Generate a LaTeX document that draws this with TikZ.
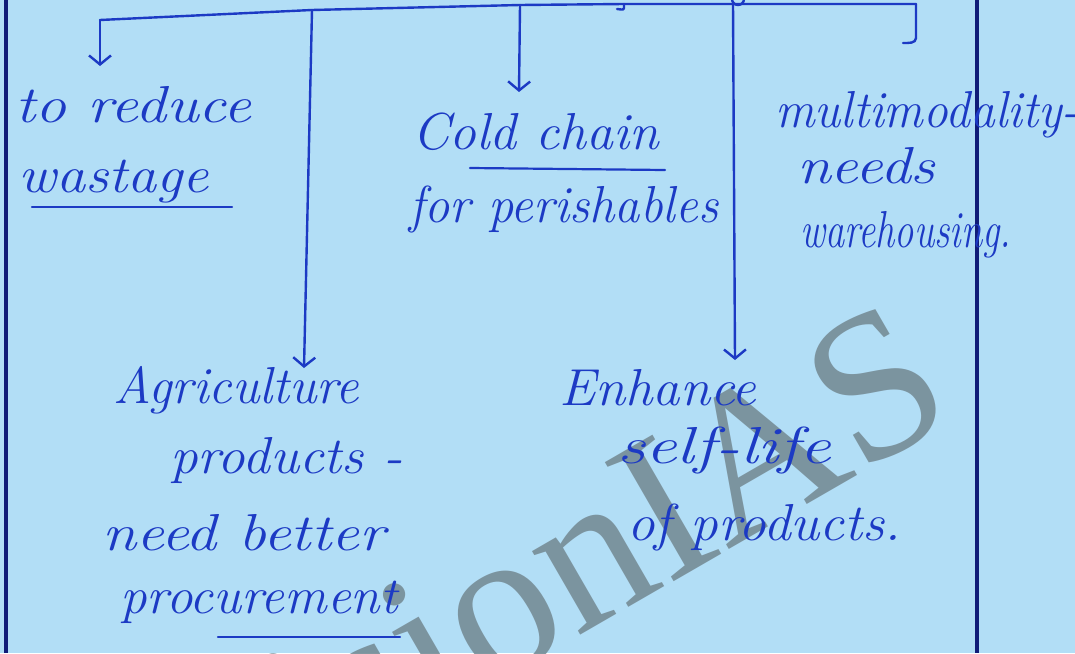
\documentclass[tikz,border=0pt]{standalone}
\usepackage{fontspec}
\newfontfamily\stampfont{Liberation Serif}
\usetikzlibrary{arrows.meta}

\definecolor{paper}{RGB}{178,222,246}
\definecolor{ink}{RGB}{28,58,196}
\definecolor{frame}{RGB}{16,28,120}
\definecolor{stamp}{RGB}{118,140,150}

\begin{document}
\begin{tikzpicture}[x=1pt,y=-1pt,
  hand/.style={text=ink, font=\fontsize{52}{58}\selectfont\itshape,
               anchor=base west, inner sep=0pt},
  wire/.style={draw=ink, line width=2.4pt, line cap=round, line join=round},
  downarrow/.style={wire, -{Straight Barb[length=9pt,width=22pt,line width=2.4pt]}},
  rule/.style={draw=ink, line width=2.2pt, line cap=round},
  margin/.style={draw=frame, line width=4.5pt}
]
% sheet
\useasboundingbox (0,0) rectangle (1075,653);
\fill[paper] (0,0) rectangle (1075,653);

% watermark across the lower half
\node[rotate=30, anchor=base west, inner sep=0pt, text=stamp, text opacity=0.9,
      font=\stampfont\fontsize{210}{210}\selectfont] (mark) at (193,859) {VisionIAS};

% page margins
\coordinate (mlt) at (6,0);    \coordinate (mlb) at (6,653);
\coordinate (mrt) at (977,0);  \coordinate (mrb) at (977,653);
\draw[margin] (mlt) -- (mlb);
\draw[margin] (mrt) -- (mrb);

% points on the top bus
\coordinate (b1) at (100,20);
\coordinate (b2) at (312,10);
\coordinate (b3) at (520,5);
\coordinate (b4) at (624,4);
\coordinate (b5) at (733,4);
\coordinate (b6) at (916,4);

% arrow ends
\coordinate (e1) at (100,66);
\coordinate (e2) at (304,368);
\coordinate (e3) at (519,92);
\coordinate (e5) at (735,360);
\coordinate (e6) at (916,38);
\coordinate (h6) at (903,43);
\coordinate (e4) at (617,9);

% texts
\node[hand, xscale=1.19] (t1a) at (15,122)  {to reduce};
\node[hand, xscale=1.12] (t1b) at (18,192)  {wastage};
\node[hand, xscale=1.03] (t3a) at (412,149) {Cold chain};
\node[hand, xscale=0.97] (t3b) at (409,222) {for perishables};
\node[hand, xscale=0.95] (t6a) at (775,127) {multimodality-};
\node[hand, xscale=1.18] (t6b) at (797,183) {needs};
\node[hand, xscale=0.74] (t6c) at (800,247) {warehousing.};
\node[hand, xscale=1.00] (t2a) at (113,403) {Agriculture};
\node[hand, xscale=1.06] (t2b) at (170,473) {products -};
\node[hand, xscale=1.19] (t2c) at (102,550) {need better};
\node[hand, xscale=1.02] (t2d) at (120,613) {procurement};
\node[hand, xscale=1.05] (t5a) at (559,405) {Enhance};
\node[hand, xscale=1.35] (t5b) at (617,463) {self-life};
\node[hand, xscale=1.06] (t5c) at (627,540) {of products.};

% bus and branches
\draw[wire] (b1) -- (b2) -- (b3) -- (b4) -- (b5) -- (b6);
\draw[downarrow] (b1) -- (e1);
\draw[downarrow] (b2) -- (e2);
\draw[downarrow] (b3) -- (e3);
\draw[downarrow] (b5) -- (e5);
\draw[wire] (b6) -- (e6) to[out=-90,in=0] (h6);
\draw[wire] (b4) -- ++(0,4) to[out=-90,in=0] (e4);
\draw[wire] (738,-1) circle[radius=6];

% underlines
\coordinate (u1a) at (32,207);  \coordinate (u1b) at (232,207);
\coordinate (u3a) at (470,168); \coordinate (u3b) at (665,170);
\coordinate (u2a) at (218,637); \coordinate (u2b) at (400,637);
\draw[rule] (u1a) -- (u1b);
\draw[rule] (u3a) -- (u3b);
\draw[rule] (u2a) -- (u2b);
\end{tikzpicture}
\end{document}
